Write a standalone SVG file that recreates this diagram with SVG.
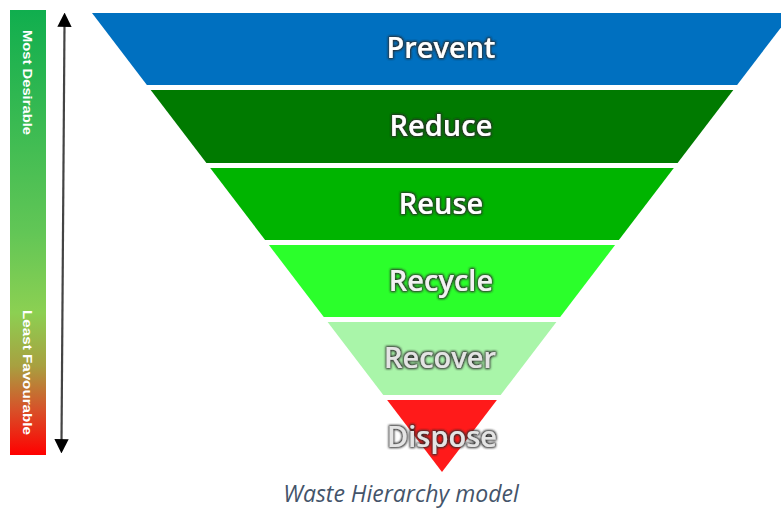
<svg xmlns="http://www.w3.org/2000/svg" width="781" height="509" viewBox="0 0 781 509">
  <defs>
    <linearGradient id="barGrad" x1="0" y1="0" x2="0" y2="1">
      <stop offset="0" stop-color="#10AE4E"/>
      <stop offset="0.5" stop-color="#62C656"/>
      <stop offset="0.68" stop-color="#8CD052"/>
      <stop offset="0.8" stop-color="#A8A040"/>
      <stop offset="0.9" stop-color="#D85028"/>
      <stop offset="1" stop-color="#FF0000"/>
    </linearGradient>
    <filter id="glow" x="-15%" y="-30%" width="130%" height="160%">
      <feMorphology in="SourceAlpha" operator="dilate" radius="0.8" result="d"/>
      <feGaussianBlur in="d" stdDeviation="1.3" result="b"/>
      <feFlood flood-color="#2a2a2a"/>
      <feComposite in2="b" operator="in" result="s"/>
      <feMerge><feMergeNode in="s"/><feMergeNode in="SourceGraphic"/></feMerge>
    </filter>
    <marker id="arrowHead" viewBox="0 0 10 10" refX="2" refY="5" markerWidth="6.5" markerHeight="6.5" orient="auto-start-reverse" markerUnits="strokeWidth">
      <path d="M0,0 L10,5 L0,10 z" fill="#000"/>
    </marker>
    <style>
      .lbl { font-family: "Open Sans", "Liberation Sans", sans-serif; font-weight: 600; font-size: 29px; text-anchor: middle; fill: #ffffff; filter: url(#glow); }
      .pale { fill: #e4e4e4; }
      .bar { font-family: "Liberation Sans", Arial, sans-serif; font-weight: bold; font-size: 13px; fill: #ffffff; }
      .cap { font-family: "Open Sans", "Liberation Sans", sans-serif; font-style: italic; font-size: 23px; fill: #44546A; text-anchor: middle; }
    </style>
  </defs>

  <g id="scale-bar">
    <rect x="10" y="10" width="36" height="445" fill="url(#barGrad)"/>
    <text class="bar" transform="translate(23,30) rotate(90)" textLength="105" lengthAdjust="spacingAndGlyphs">Most Desirable</text>
    <text class="bar" transform="translate(23,310) rotate(90)" textLength="125" lengthAdjust="spacingAndGlyphs">Least Favourable</text>
  </g>

  <g id="connectors">
    <line x1="64.5" y1="24" x2="61.5" y2="442" stroke="#444" stroke-width="2.2" marker-start="url(#arrowHead)" marker-end="url(#arrowHead)"/>
  </g>

  <g id="prevent">
    <polygon points="92,13 792,13 737.1,85 146.9,85" fill="#0070C0"/>
    <text class="lbl" x="441" y="58">Prevent</text>
  </g>
  <g id="reduce">
    <polygon points="150.7,90 733.3,90 677.6,163 206.4,163" fill="#007A00"/>
    <text class="lbl" x="441" y="136">Reduce</text>
  </g>
  <g id="reuse">
    <polygon points="210.2,168 673.8,168 618.9,240 265.1,240" fill="#00B400"/>
    <text class="lbl" x="441" y="214">Reuse</text>
  </g>
  <g id="recycle">
    <polygon points="268.9,245 615.1,245 560.2,317 323.8,317" fill="#2BFF2B"/>
    <text class="lbl" x="441" y="291" style="fill:#f2f2f2">Recycle</text>
  </g>
  <g id="recover">
    <polygon points="327.6,322 556.4,322 500.7,395 383.3,395" fill="#A9F5A9"/>
    <text class="lbl pale" x="440" y="368">Recover</text>
  </g>
  <g id="dispose">
    <polygon points="387.1,400 496.9,400 442,472" fill="#FF1A1A"/>
    <text class="lbl pale" x="442" y="447">Dispose</text>
  </g>

  <text class="cap" x="401" y="502">Waste Hierarchy model</text>
</svg>
